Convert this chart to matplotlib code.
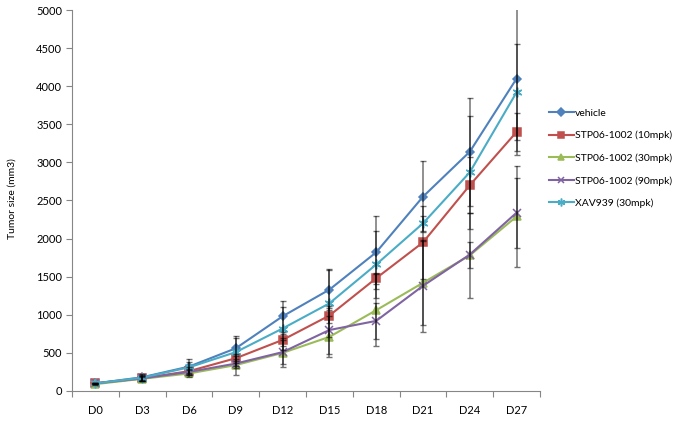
import matplotlib
matplotlib.use("Agg")
import matplotlib.pyplot as plt
import numpy as np

# data
days = ["D0", "D3", "D6", "D9", "D12", "D15", "D18", "D21", "D24", "D27"]
labels = ["vehicle", "STP06-1002 (10mpk)", "STP06-1002 (30mpk)",
          "STP06-1002 (90mpk)", "XAV939 (30mpk)"]

vehicle = [100, 180, 320, 560, 980, 1330, 1820, 2550, 3140, 4100]
stp_10 = [100, 165, 260, 430, 670, 990, 1480, 1950, 2700, 3400]
stp_30 = [90, 160, 230, 340, 500, 710, 1060, 1420, 1780, 2290]
stp_90 = [100, 165, 250, 360, 510, 800, 920, 1380, 1790, 2340]
xav939 = [100, 175, 310, 510, 820, 1150, 1660, 2200, 2870, 3920]

vehicle_err = [10, 40, 100, 160, 200, 270, 480, 470, 710, 1000]
stp_10_err = [10, 30, 50, 60, 80, 100, 70, 480, 370, 250]
stp_30_err = [10, 30, 40, 125, 190, 270, 470, 554, 560, 660]
stp_90_err = [10, 30, 40, 60, 160, 310, 240, 600, 170, 460]
xav939_err = [10, 40, 70, 185, 280, 440, 440, 100, 740, 630]

series = [vehicle, stp_10, stp_30, stp_90, xav939]
errors = [vehicle_err, stp_10_err, stp_30_err, stp_90_err, xav939_err]
colors = ["#4F81BD", "#C0504D", "#9BBB59", "#8064A2", "#4BACC6"]
markers = ["D", "s", "^", "x", (6, 2, 0)]
msizes = [4.5, 6, 5.5, 6, 7]

plt.rcParams["font.family"] = ["Lato", "DejaVu Sans"]

fig = plt.figure(figsize=(6.83, 4.22), dpi=100)
ax = fig.add_axes([0.1054, 0.0735, 0.6852, 0.9028])

x = np.arange(len(days))
handles = []
for vals, err, c, m, ms, lab in zip(series, errors, colors, markers, msizes, labels):
    h, = ax.plot(x, vals, color=c, lw=1.5, marker=m, markersize=ms,
                 markeredgecolor=c, markerfacecolor=c, markeredgewidth=1.1,
                 label=lab, zorder=3)
    handles.append(h)
    ax.errorbar(x, vals, yerr=err, fmt="none", ecolor="black", alpha=0.55,
                elinewidth=1.1, capsize=2.5, capthick=1.0, zorder=4)

ax.set_xlim(-0.5, 9.5)
ax.set_ylim(0, 5000)
ax.set_yticks(np.arange(0, 5001, 500))
ax.tick_params(axis="y", labelsize=8, length=4, color="#868686", pad=3)

# ticks between categories, labels in the middle
ax.set_xticks(np.arange(-0.5, 10, 1))
ax.set_xticklabels([])
ax.set_xticks(x, minor=True)
ax.set_xticklabels(days, minor=True, fontsize=8)
ax.tick_params(axis="x", which="major", length=4, color="#868686")
ax.tick_params(axis="x", which="minor", length=0, pad=10)

for s in ["top", "right"]:
    ax.spines[s].set_visible(False)
for s in ["left", "bottom"]:
    ax.spines[s].set_color("#868686")

fig.text(0.018, 0.53, "Tumor size (mm3)", rotation=90, va="center",
         ha="center", fontsize=7.5)

fig.legend(handles=handles, loc="upper left", bbox_to_anchor=(0.79, 0.765),
           frameon=False, fontsize=7.5, handlelength=2.4, handletextpad=0.1,
           labelspacing=1.25, markerscale=0.8)

fig.savefig("out.png", dpi=100)
